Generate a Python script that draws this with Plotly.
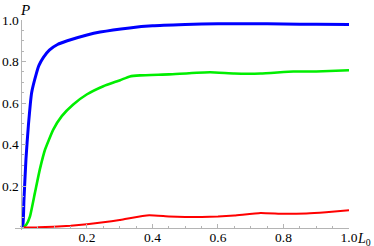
import plotly.graph_objects as go

blue_x = [0, 0.004, 0.0076, 0.0137, 0.021, 0.031, 0.046, 0.053, 0.067, 0.085, 0.11, 0.14, 0.2, 0.24, 0.33, 0.4, 0.5, 0.6, 0.7, 0.8, 0.9, 1.0]
blue_y = [0, 0.01, 0.135, 0.33, 0.49, 0.65, 0.745, 0.78, 0.82, 0.855, 0.882, 0.9, 0.928, 0.942, 0.962, 0.972, 0.978, 0.982, 0.982, 0.981, 0.979, 0.978]

green_x = [0.0076, 0.015, 0.026, 0.041, 0.056, 0.072, 0.097, 0.123, 0.158, 0.199, 0.25, 0.301, 0.331, 0.362, 0.45, 0.576, 0.65, 0.73, 0.83, 0.9, 1.0]
green_y = [0.004, 0.015, 0.054, 0.167, 0.28, 0.376, 0.472, 0.537, 0.593, 0.641, 0.681, 0.71, 0.728, 0.733, 0.738, 0.748, 0.742, 0.742, 0.752, 0.752, 0.758]

red_x = [0.005, 0.05, 0.097, 0.15, 0.2, 0.25, 0.3, 0.33, 0.39, 0.45, 0.5, 0.55, 0.6, 0.65, 0.73, 0.8, 0.87, 0.93, 1.0]
red_y = [0, 0.001, 0.004, 0.009, 0.016, 0.025, 0.036, 0.045, 0.059, 0.053, 0.051, 0.051, 0.053, 0.058, 0.07, 0.066, 0.068, 0.074, 0.083]

x_ticks = [0.2, 0.4, 0.6, 0.8, 1.0]
y_ticks = [0.2, 0.4, 0.6, 0.8, 1.0]

fig = go.Figure()
fig.add_trace(go.Scatter(x=blue_x, y=blue_y, mode="lines", line=dict(color="#0000ff", width=3.0, shape="spline", smoothing=0.6)))
fig.add_trace(go.Scatter(x=green_x, y=green_y, mode="lines", line=dict(color="#00ee00", width=2.6, shape="spline", smoothing=0.4)))
fig.add_trace(go.Scatter(x=red_x, y=red_y, mode="lines", line=dict(color="#ff0000", width=2.0, shape="spline", smoothing=0.4)))

W, H = 374, 246
ml, mr, mt, mb = 15, 25, 20, 16
pw = W - ml - mr
xa = 0.0198
ya = 0.012
axcol = "#b4b4b4"
serif = "Liberation Serif"
font = dict(family=serif, size=13.5, color="#000000")

fig.update_layout(
    width=W, height=H,
    margin=dict(l=ml, r=mr, t=mt, b=mb, autoexpand=False),
    plot_bgcolor="white", paper_bgcolor="white",
    showlegend=False,
    font=font,
    xaxis=dict(range=[-xa, 1.0], showgrid=False, zeroline=False, showline=True, linecolor=axcol, linewidth=1,
               anchor="free", position=ya / (1 + ya), tickfont=font, automargin=False, ticklabelstandoff=-3,
               tickvals=x_ticks, ticktext=[f"{v:.1f}" for v in x_ticks], ticks="inside", ticklen=4, tickcolor=axcol,
               minor=dict(dtick=0.05, tick0=0, ticks="inside", ticklen=2, tickcolor=axcol)),
    yaxis=dict(range=[-ya, 1.0], showgrid=False, zeroline=False, showline=True, linecolor=axcol, linewidth=1,
               anchor="free", position=xa / (1 + xa), tickfont=font, automargin=False,
               tickvals=y_ticks, ticktext=[f"{v:.1f}" for v in y_ticks], ticks="inside", ticklen=4, tickcolor=axcol,
               minor=dict(dtick=0.05, tick0=0, ticks="inside", ticklen=2, tickcolor=axcol)),
    annotations=[
        dict(text="<i>P</i>", xref="paper", yref="paper", x=xa / (1 + xa), y=1.0, xanchor="left", yanchor="bottom",
             showarrow=False, font=dict(family=serif, size=15, color="#000000"), xshift=-3),
        dict(text="<i>L</i><sub>0</sub>", xref="paper", yref="paper", x=(W - 1 - ml) / pw, y=ya / (1 + ya),
             xanchor="right", yanchor="top",
             showarrow=False, font=dict(family=serif, size=14, color="#000000"), yshift=-1),
    ],
)

fig.write_html("out.html", config={"displayModeBar": False},
               post_script="document.body.style.margin='0';document.body.style.padding='0';")
